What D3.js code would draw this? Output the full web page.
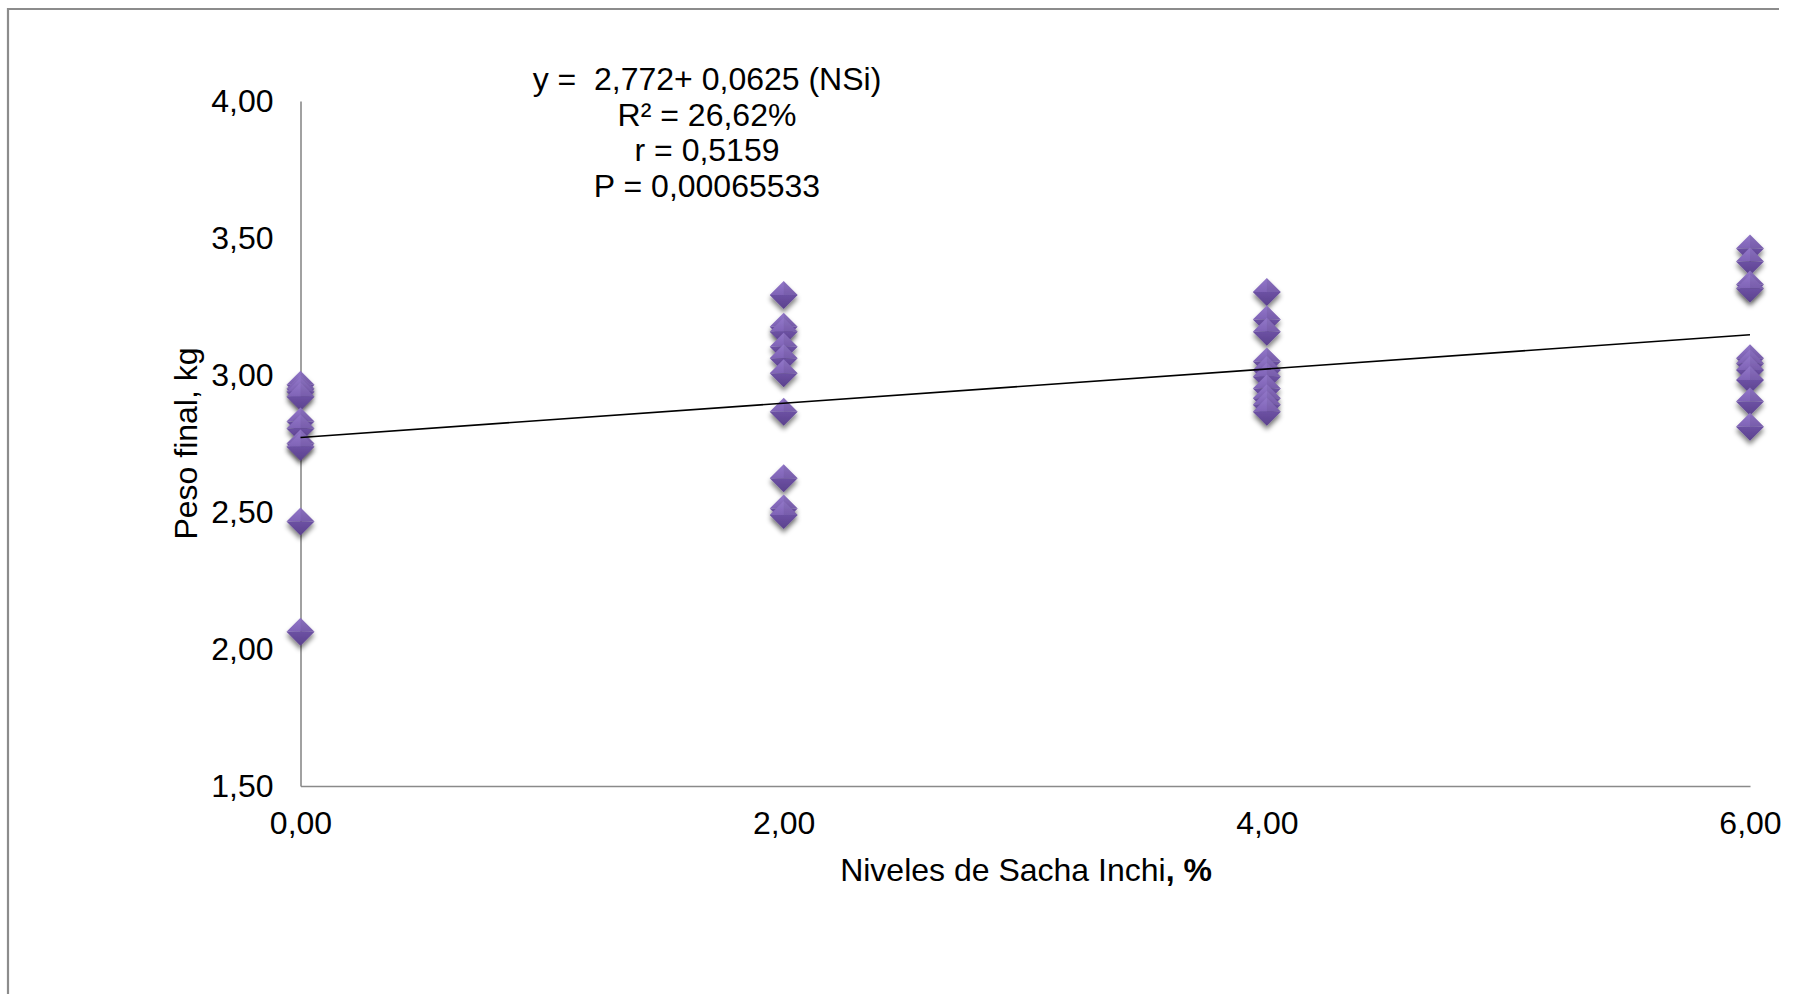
<!DOCTYPE html>
<html>
<head>
<meta charset="utf-8">
<script src="https://cdn.jsdelivr.net/npm/d3@7"></script>
<style>
  html, body { margin: 0; padding: 0; background: #fff; }
  svg { display: block; }
  text { font-family: "Liberation Sans", Arial, sans-serif; fill: #000; }
</style>
</head>
<body>
<svg id="chart" width="1818" height="994"></svg>
<script>
// Sacha Inchi inclusion level (%) for each group
const levels = [0, 2, 4, 6];

// Final weight (kg) of the ten animals in each group
const peso0 = [2.964, 2.950, 2.939, 2.921, 2.830, 2.805, 2.750, 2.738, 2.465, 2.063];
const peso2 = [3.292, 3.176, 3.158, 3.103, 3.061, 3.006, 2.866, 2.623, 2.513, 2.489];
const peso4 = [3.303, 3.203, 3.158, 3.049, 3.018, 2.994, 2.951, 2.915, 2.891, 2.866];
const peso6 = [3.462, 3.414, 3.330, 3.316, 3.061, 3.042, 3.018, 2.982, 2.903, 2.811];

// Fitted regression: y = a + b * NSi
const intercept = 2.772;
const slope = 0.0625;

const xTicks = [0, 2, 4, 6];
const yTicks = [1.5, 2.0, 2.5, 3.0, 3.5, 4.0];

const statLines = [
  "y =  2,772+ 0,0625 (NSi)",
  "R² = 26,62%",
  "r = 0,5159",
  "P = 0,00065533"
];

const groups = [peso0, peso2, peso4, peso6];
const points = [];
groups.forEach((vals, i) => vals.forEach(v => points.push({ x: levels[i], y: v })));

const svg = d3.select("#chart");
const W = 1818, H = 994;
const FS = "32px";

const x = d3.scaleLinear().domain([0, 6]).range([300.5, 1750]);
const y = d3.scaleLinear().domain([1.5, 4]).range([786, 101]);

const loc = d3.formatLocale({ decimal: ",", thousands: ".", grouping: [3], currency: ["", ""] });
const fmt = loc.format(".2f");

// defs: diamond shading and soft shadow
const defs = svg.append("defs");
const f = defs.append("filter").attr("id", "shadow")
  .attr("x", "-50%").attr("y", "-50%").attr("width", "200%").attr("height", "220%");
f.append("feGaussianBlur").attr("in", "SourceAlpha").attr("stdDeviation", 2.4).attr("result", "b");
f.append("feOffset").attr("in", "b").attr("dy", 4).attr("result", "o");
f.append("feComponentTransfer").attr("in", "o").attr("result", "s")
  .append("feFuncA").attr("type", "linear").attr("slope", 0.5);
const m = f.append("feMerge");
m.append("feMergeNode").attr("in", "s");
m.append("feMergeNode").attr("in", "SourceGraphic");

const gTop = defs.append("linearGradient").attr("id", "gTop").attr("x1", 0).attr("y1", 0).attr("x2", 0).attr("y2", 1);
gTop.append("stop").attr("offset", "0%").attr("stop-color", "#9277c9");
gTop.append("stop").attr("offset", "100%").attr("stop-color", "#7f63b6");
const gBot = defs.append("linearGradient").attr("id", "gBot").attr("x1", 0).attr("y1", 0).attr("x2", 0).attr("y2", 1);
gBot.append("stop").attr("offset", "0%").attr("stop-color", "#6c51a3");
gBot.append("stop").attr("offset", "100%").attr("stop-color", "#5b418d");

// outer frame (top and left edges)
svg.append("path")
  .attr("d", `M8,${H + 5} L8,9 L1779,9`)
  .attr("fill", "none").attr("stroke", "#8c8c8c").attr("stroke-width", 2.2);

// axes
const yAxis = d3.axisLeft(y).tickValues(yTicks).tickFormat(fmt).tickSize(0).tickPadding(27);
const gy = svg.append("g").attr("transform", `translate(${x(0)},0)`).call(yAxis);
gy.select(".domain").attr("stroke", "#8a8a8a").attr("stroke-width", 1.6);
gy.selectAll("text").style("font-size", FS).attr("fill", "#000");

const xAxis = d3.axisBottom(x).tickValues(xTicks).tickFormat(fmt).tickSize(0).tickPadding(25);
const gx = svg.append("g").attr("transform", `translate(0,${y(1.5)})`).call(xAxis);
gx.select(".domain").attr("stroke", "#8a8a8a").attr("stroke-width", 1.6);
gx.selectAll("text").style("font-size", FS).attr("fill", "#000");

// axis titles
const xt = svg.append("text")
  .attr("x", 1026).attr("y", 881).attr("text-anchor", "middle")
  .style("font-size", FS);
xt.append("tspan").text("Niveles de Sacha Inchi");
xt.append("tspan").style("font-weight", "bold").text(", %");

svg.append("text")
  .attr("transform", `translate(197,${y(2.75)}) rotate(-90)`)
  .attr("text-anchor", "middle")
  .style("font-size", FS)
  .text("Peso final, kg");

// data points as shaded diamonds
const r = 14;
const pts = svg.append("g").selectAll("g.pt").data(points).join("g")
  .attr("class", "pt")
  .attr("transform", d => `translate(${x(d.x)},${y(d.y)})`)
  .attr("filter", "url(#shadow)");
pts.append("path").attr("d", `M${-r},0 L0,${-r} L${r},0 Z`).attr("fill", "url(#gTop)");
pts.append("path").attr("d", `M${-r},0 L${r},0 L0,${r} Z`).attr("fill", "url(#gBot)");
pts.append("path").attr("d", `M0,${-r} L${r},0 L0,0 Z`).attr("fill", "#000").attr("fill-opacity", 0.06);

// regression line
svg.append("line")
  .attr("x1", x(0)).attr("y1", y(intercept + slope * 0))
  .attr("x2", x(6)).attr("y2", y(intercept + slope * 6))
  .attr("stroke", "#000").attr("stroke-width", 1.6);

// regression statistics
const stats = svg.append("text").attr("text-anchor", "middle")
  .style("font-size", FS).style("white-space", "pre");
statLines.forEach((t, i) => {
  stats.append("tspan").attr("x", 707).attr("y", 90 + i * 35.7).text(t);
});
</script>
</body>
</html>
